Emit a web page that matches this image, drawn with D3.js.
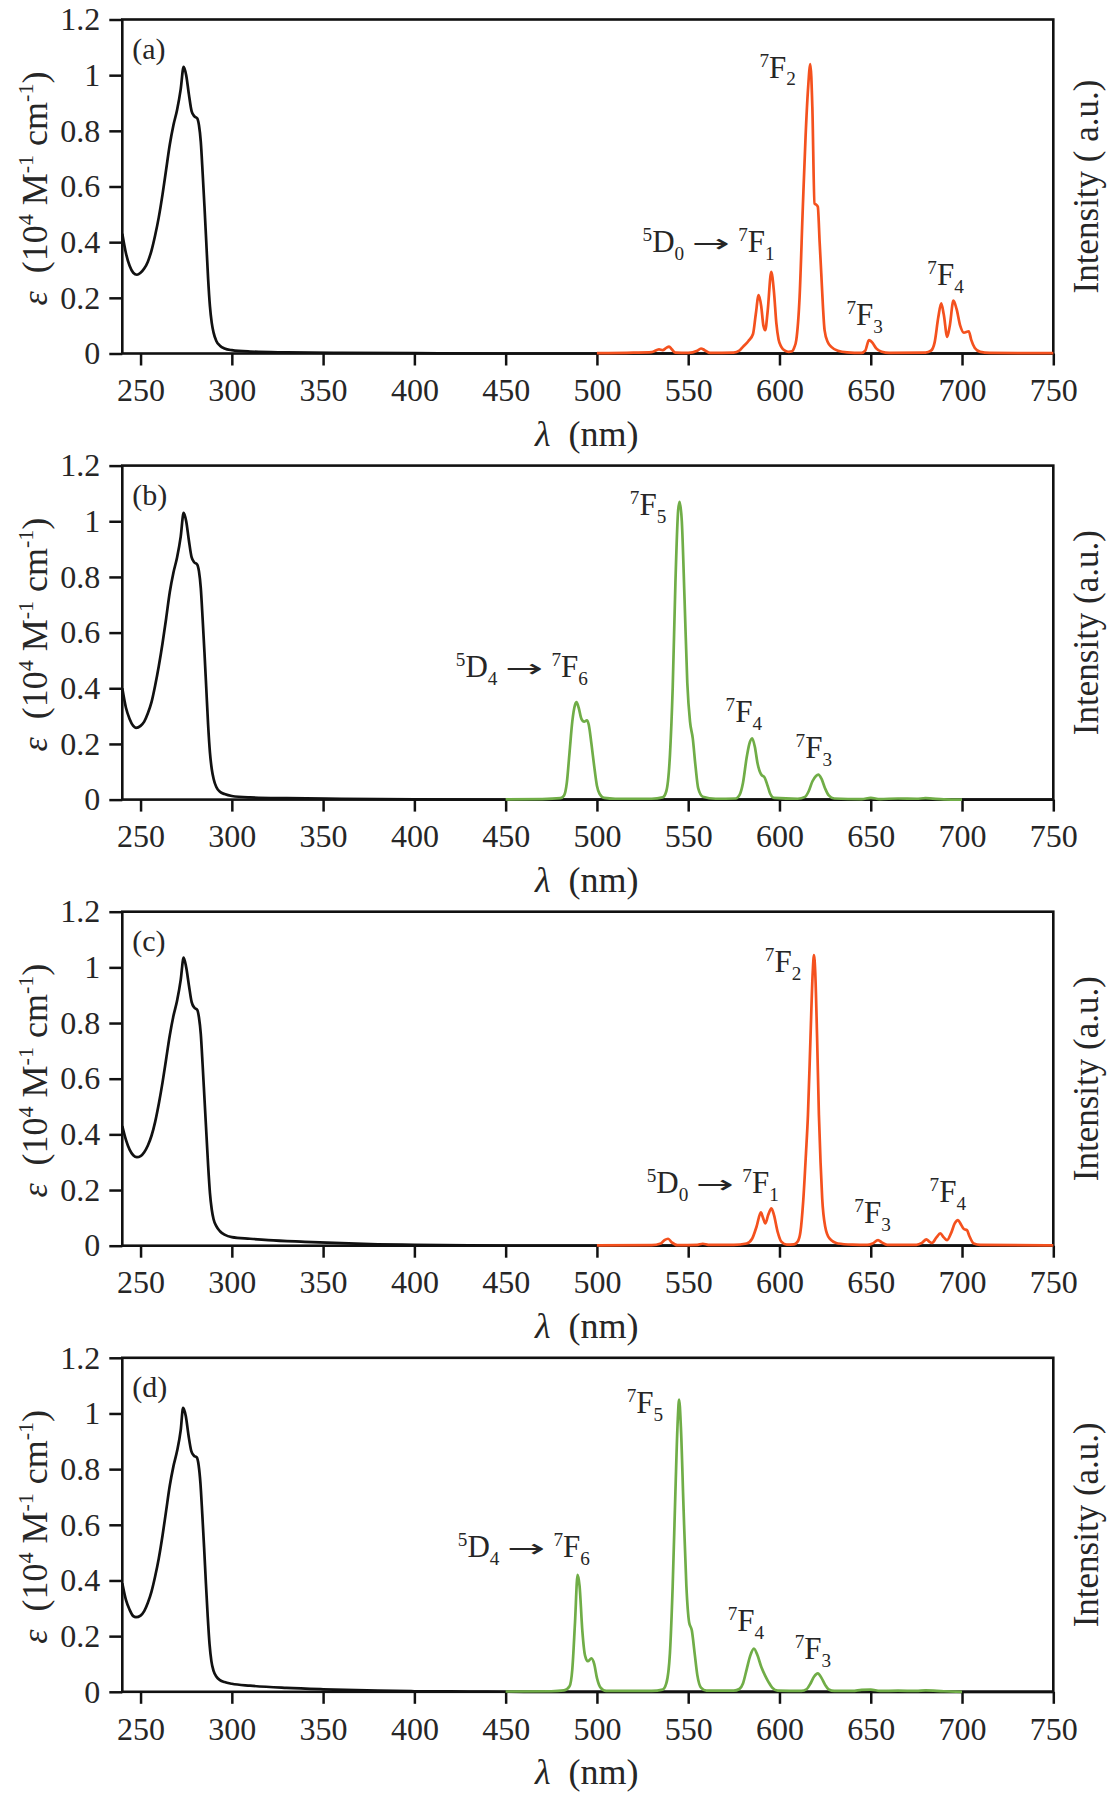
<!DOCTYPE html>
<html>
<head>
<meta charset="utf-8">
<script src="https://cdn.jsdelivr.net/npm/d3@7"></script>
<style>
body { margin: 0; background: #fff; }
text { font-family: "Liberation Serif", "Times New Roman", serif; fill: #262626; }
</style>
</head>
<body>
<svg width="1115" height="1800"></svg>
<script>
// tick values
var xTicks = [250, 300, 350, 400, 450, 500, 550, 600, 650, 700, 750];
var yTicks = [0, 0.2, 0.4, 0.6, 0.8, 1, 1.2];
var panelNames = ['(a)', '(b)', '(c)', '(d)'];
var rightTitles = ['Intensity ( a.u.)', 'Intensity (a.u.)', 'Intensity (a.u.)', 'Intensity (a.u.)'];

// absorption spectra [nm, eps]
var absA = [[240,0.43],[242,0.36],[244,0.315],[246,0.29],[248,0.283],[250,0.29],[252,0.305],[254,0.33],[256,0.37],[258,0.425],[260,0.49],[262,0.57],[264,0.66],[266,0.75],[268,0.82],[270,0.875],[272,0.95],[273.6,1.03],[275,1.0],[276.5,0.93],[278,0.87],[279.5,0.852],[281,0.845],[282,0.82],[283,0.76],[284,0.65],[285,0.53],[286,0.4],[287,0.27],[288,0.17],[289,0.11],[290,0.075],[291.5,0.045],[293.5,0.028],[296,0.018],[300,0.012],[310,0.007],[330,0.004],[360,0.002],[400,0.001],[450,0],[750,0]];
var absB = [[240,0.40],[242,0.33],[244,0.29],[246,0.265],[247.5,0.258],[250,0.265],[252,0.28],[254,0.31],[256,0.35],[258,0.41],[260,0.48],[262,0.56],[264,0.65],[266,0.745],[268,0.815],[270,0.87],[272,0.945],[273.6,1.03],[275,1.0],[276.5,0.93],[278,0.87],[279.5,0.852],[281,0.845],[282,0.82],[283,0.76],[284,0.65],[285,0.53],[286,0.4],[287,0.27],[288,0.17],[289,0.11],[290,0.075],[291.5,0.045],[293.5,0.028],[296,0.02],[300,0.013],[310,0.008],[330,0.005],[360,0.003],[400,0.001],[450,0],[750,0]];
var absC = [[240,0.43],[242,0.38],[244,0.345],[246,0.325],[248,0.318],[250,0.322],[252,0.336],[254,0.36],[256,0.395],[258,0.445],[260,0.51],[262,0.585],[264,0.67],[266,0.755],[268,0.825],[270,0.88],[272,0.955],[273.6,1.035],[275,1.0],[276.5,0.935],[278,0.875],[279.5,0.855],[281,0.848],[282,0.82],[283,0.76],[284,0.65],[285,0.53],[286,0.41],[287,0.29],[288,0.19],[289,0.13],[290,0.095],[291.5,0.07],[293.5,0.052],[296,0.04],[300,0.031],[310,0.025],[320,0.02],[340,0.014],[360,0.009],[380,0.005],[400,0.003],[430,0.001],[460,0],[750,0]];
var absD = [[240,0.39],[242,0.33],[244,0.295],[246,0.272],[247.5,0.268],[250,0.274],[252,0.29],[254,0.32],[256,0.36],[258,0.415],[260,0.48],[262,0.56],[264,0.65],[266,0.74],[268,0.81],[270,0.865],[272,0.94],[273.3,1.02],[274.8,0.99],[276.3,0.92],[277.8,0.865],[279.3,0.848],[280.8,0.842],[281.8,0.815],[282.8,0.75],[283.8,0.64],[284.8,0.52],[285.8,0.39],[286.8,0.27],[287.8,0.17],[288.8,0.11],[290,0.075],[291.5,0.055],[293.5,0.042],[296,0.035],[300,0.029],[310,0.022],[330,0.014],[350,0.009],[380,0.004],[400,0.002],[430,0.001],[460,0],[750,0]];

// emission spectra [nm, intensity]
var emA = [[500,0.001],[520,0.003],[530,0.005],[534,0.015],[536,0.012],[538,0.02],[539.5,0.025],[541,0.015],[543,0.003],[550,0.002],[555,0.01],[557,0.018],[559,0.012],[562,0.002],[575,0.003],[578,0.01],[580,0.024],[583,0.045],[585.5,0.07],[587,0.14],[588.6,0.21],[590,0.17],[591.2,0.1],[592.2,0.084],[593.5,0.15],[595.5,0.293],[597,0.22],[598.3,0.108],[599.5,0.05],[601,0.024],[603,0.01],[605,0.006],[607,0.008],[608,0.02],[609.2,0.048],[611,0.2],[612.8,0.527],[614.3,0.78],[615.6,0.946],[616.9,1.04],[618,0.886],[619.2,0.539],[620.1,0.535],[621,0.527],[622,0.4],[622.9,0.287],[623.8,0.17],[624.7,0.084],[626.5,0.04],[628.4,0.024],[632,0.01],[637,0.004],[645,0.002],[647,0.01],[649,0.048],[651,0.038],[653,0.018],[656,0.006],[660,0.002],[680,0.003],[683,0.01],[685,0.04],[687,0.13],[688.6,0.18],[690,0.14],[691.9,0.06],[693.3,0.1],[695.3,0.19],[697,0.16],[699,0.1],[701,0.075],[703.7,0.08],[705,0.05],[707,0.02],[710,0.006],[715,0.002],[750,0.001]];
var emB = [[450,0.001],[470,0.002],[480,0.005],[482,0.015],[483.5,0.06],[485,0.17],[486.5,0.28],[488,0.34],[488.8,0.35],[490,0.33],[491.5,0.29],[493,0.28],[494.5,0.285],[495.5,0.27],[497,0.2],[498.5,0.12],[500,0.05],[501.5,0.02],[504,0.006],[510,0.003],[530,0.003],[536,0.008],[538,0.03],[540,0.16],[541.5,0.4],[543,0.78],[544.5,1.04],[545.3,1.07],[546.5,1.0],[548,0.72],[549.5,0.42],[551,0.28],[552.5,0.22],[554,0.12],[555.5,0.04],[558,0.01],[565,0.003],[576,0.004],[578,0.015],[580,0.06],[582,0.15],[583.5,0.2],[585,0.22],[586.5,0.19],[588,0.13],[590,0.09],[591.8,0.08],[593.5,0.05],[595,0.02],[597,0.006],[610,0.003],[614,0.01],[616,0.03],[618,0.065],[620,0.085],[621.3,0.09],[623,0.075],[625,0.04],[627,0.015],[630,0.004],[645,0.002],[650,0.006],[655,0.002],[665,0.004],[675,0.003],[680,0.005],[690,0.001],[700,0]];
var emC = [[500,0.001],[530,0.002],[535,0.008],[537,0.02],[539,0.025],[541,0.012],[544,0.002],[555,0.003],[558,0.007],[561,0.003],[575,0.003],[582,0.008],[585,0.025],[587.5,0.07],[589.8,0.12],[591,0.1],[592.3,0.08],[593.8,0.11],[595.6,0.134],[597,0.11],[599,0.05],[601,0.015],[604,0.004],[608,0.005],[610,0.015],[611.5,0.05],[613,0.16],[614.5,0.33],[615.6,0.47],[617,0.75],[618.2,0.98],[618.9,1.044],[619.6,0.98],[620.6,0.75],[621.6,0.47],[622.5,0.3],[623.4,0.17],[625,0.07],[627.4,0.026],[632,0.008],[640,0.004],[648,0.003],[651,0.008],[654,0.02],[656,0.012],[659,0.003],[675,0.003],[678,0.01],[680.5,0.023],[682,0.015],[683.6,0.01],[686,0.03],[688.1,0.044],[690,0.03],[691.8,0.02],[694,0.045],[696,0.08],[697.8,0.092],[699.5,0.075],[701,0.06],[702.7,0.056],[704,0.035],[706.4,0.008],[710,0.003],[750,0.001]];
var emD = [[450,0.001],[475,0.002],[482,0.005],[485,0.02],[486.5,0.08],[488,0.25],[489.4,0.42],[490.5,0.38],[492,0.22],[493.5,0.13],[495,0.11],[497,0.12],[498.5,0.1],[500,0.05],[502,0.015],[505,0.003],[530,0.003],[536,0.008],[538,0.03],[540,0.14],[541.5,0.38],[543,0.72],[544.3,0.98],[545,1.05],[546,0.95],[547.5,0.65],[549,0.38],[550.5,0.25],[552,0.22],[553.5,0.14],[555,0.06],[557,0.015],[560,0.004],[575,0.004],[578,0.01],[580,0.03],[582,0.08],[584,0.13],[586,0.155],[588,0.13],[590,0.09],[592,0.06],[594,0.035],[596,0.015],[599,0.004],[612,0.003],[615,0.01],[617,0.03],[619,0.055],[621,0.066],[623,0.05],[625,0.025],[627,0.008],[630,0.003],[640,0.003],[645,0.007],[650,0.008],[655,0.003],[665,0.004],[675,0.003],[680,0.005],[690,0.002],[700,0]];

// transition annotations: text parts, anchored at [nm, value]
var euD0 = [['5','sup'],['D'],['0','sub'],['arrow'],['7','sup'],['F'],['1','sub']];
var tbD4 = [['5','sup'],['D'],['4','sub'],['arrow'],['7','sup'],['F'],['6','sub']];
function F(n) { return [['7','sup'],['F'],[String(n),'sub']]; }
var notesA = [[F(2), 589, 0.99], [euD0, 525, 0.364], [F(3), 636.7, 0.102], [F(4), 681, 0.245]];
var notesB = [[F(5), 518, 1.022], [tbD4, 422.7, 0.44], [F(4), 570.5, 0.278], [F(3), 608.8, 0.149]];
var notesC = [[F(2), 592, 0.983], [euD0, 527.3, 0.189], [F(3), 641, 0.081], [F(4), 682.2, 0.156]];
var notesD = [[F(5), 516.3, 1.001], [tbD4, 423.8, 0.484], [F(4), 571.6, 0.218], [F(3), 608.3, 0.117]];

var red = '#f4511e', green = '#70ad47';
var panels = [
    {abs: absA, em: emA, color: red, notes: notesA},
    {abs: absB, em: emB, color: green, notes: notesB},
    {abs: absC, em: emC, color: red, notes: notesC},
    {abs: absD, em: emD, color: green, notes: notesD}
];

var svg = d3.select('svg');
var left = 122.3, right = 1053.3, plotH = 334, step = 446.1, top0 = 19.5;

var x = d3.scaleLinear().domain([240, 750]).range([left, right]);

function richText(g, parts, size) {
    var t = g.append('text').attr('font-size', size);
    var shift = 0, pad = 0;
    parts.forEach(function(p) {
        var target = p[1] === 'sup' ? -0.36 * size : (p[1] === 'sub' ? 0.24 * size : 0);
        var ts = t.append('tspan')
            .attr('dy', target - shift)
            .attr('font-size', p[1] ? size * 0.62 : size);
        if (p[0] === 'arrow') {
            // long thin arrow between the two levels
            ts.attr('dx', 8).attr('textLength', 38).attr('lengthAdjust', 'spacingAndGlyphs')
                .attr('font-family', '"DejaVu Sans", sans-serif').attr('font-size', size * 0.8)
                .text('\u2192');
            pad = 8;
        } else {
            if (pad) { ts.attr('dx', pad); pad = 0; }
            ts.text(p[0]);
        }
        shift = target;
    });
    return t;
}

panels.forEach(function(p, i) {
    var top = top0 + i * step;
    var g = svg.append('g');
    var y = d3.scaleLinear().domain([0, 1.2]).range([top + plotH, top]);

    var line = d3.line()
        .x(function(d) { return x(d[0]); })
        .y(function(d) { return y(d[1]); })
        .curve(d3.curveMonotoneX);

    // axes
    var ax = g.append('g')
        .attr('transform', 'translate(0,' + (top + plotH) + ')')
        .call(d3.axisBottom(x).tickValues(xTicks).tickSize(12).tickPadding(13));
    var ay = g.append('g')
        .attr('transform', 'translate(' + left + ',0)')
        .call(d3.axisLeft(y).tickValues(yTicks).tickSize(13).tickPadding(9)
            .tickFormat(function(d) { return String(+d.toFixed(1)); }));
    [ax, ay].forEach(function(a) {
        a.select('.domain').remove();
        a.selectAll('line').attr('stroke', '#111').attr('stroke-width', 2.5);
        a.selectAll('text').attr('font-size', 32)
            .attr('font-family', '"Liberation Serif", serif').attr('fill', '#333');
    });

    g.append('path').datum(p.abs)
        .attr('d', line).attr('fill', 'none')
        .attr('stroke', '#111').attr('stroke-width', 2.7);

    g.append('rect')
        .attr('x', left).attr('y', top)
        .attr('width', right - left).attr('height', plotH)
        .attr('fill', 'none').attr('stroke', '#111').attr('stroke-width', 2.6);

    g.append('path').datum(p.em)
        .attr('d', line).attr('fill', 'none')
        .attr('stroke', p.color).attr('stroke-width', 2.7)
        .attr('stroke-linejoin', 'round');

    // panel letter
    g.append('text').attr('x', left + 10).attr('y', top + 39)
        .attr('font-size', 30).text(panelNames[i]);

    // transition labels
    p.notes.forEach(function(n) {
        richText(g, n[0], 31).attr('x', x(n[1])).attr('y', y(n[2]));
    });

    // x title
    var xt = g.append('text').attr('x', (left + right) / 2 - 1).attr('y', top + plotH + 92)
        .attr('text-anchor', 'middle').attr('font-size', 36);
    xt.append('tspan').attr('font-style', 'italic').text('\u03bb');
    xt.append('tspan').style('white-space', 'pre').text('  (nm)');

    // left title
    var yt = g.append('text')
        .attr('transform', 'translate(47,' + (top + plotH / 2 + 2) + ') rotate(-90)')
        .attr('text-anchor', 'middle').attr('font-size', 36).style('white-space', 'pre');
    yt.append('tspan').attr('font-style', 'italic').text('\u03b5');
    yt.append('tspan').text('  (10');
    yt.append('tspan').attr('font-size', 22).attr('dy', -14).text('4');
    yt.append('tspan').attr('dy', 14).text(' M');
    yt.append('tspan').attr('font-size', 22).attr('dy', -14).text('-1');
    yt.append('tspan').attr('dy', 14).text(' cm');
    yt.append('tspan').attr('font-size', 22).attr('dy', -14).text('-1');
    yt.append('tspan').attr('dy', 14).text(')');

    // right title
    g.append('text')
        .attr('transform', 'translate(1098,' + (top + plotH / 2) + ') rotate(-90)')
        .attr('text-anchor', 'middle').attr('font-size', 35)
        .style('white-space', 'pre').text(rightTitles[i]);
});
</script>
</body>
</html>
